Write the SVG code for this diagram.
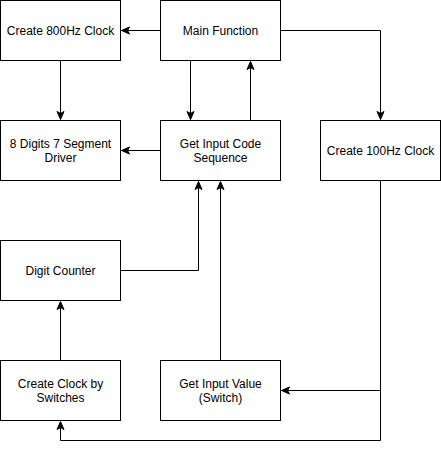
<svg xmlns="http://www.w3.org/2000/svg" width="441" height="449" viewBox="0 0 441 449">
<style>
.box{fill:#fff;stroke:#000;stroke-width:1}
.lbl{font-family:"Liberation Sans",Arial,sans-serif;font-size:12px;fill:#000;text-anchor:middle}
.edge{fill:none;stroke:#000;stroke-width:1}
</style>
<defs>
<marker id="arr" viewBox="0 0 10 10" refX="9" refY="5" markerWidth="10" markerHeight="10" markerUnits="userSpaceOnUse" orient="auto">
<path d="M1,1.5 L9,5 L1,8.5 L3,5 Z" fill="#000" stroke="#000" stroke-width="1"/>
</marker>
</defs>
<rect width="441" height="449" fill="#fff"/>
<g id="connectors">
<path class="edge" d="M160.5,30.5 H121.5" marker-end="url(#arr)"/>
<path class="edge" d="M60.5,60.5 V119.5" marker-end="url(#arr)"/>
<path class="edge" d="M190.5,60.5 V119.5" marker-end="url(#arr)"/>
<path class="edge" d="M250.5,120.5 V61.5" marker-end="url(#arr)"/>
<path class="edge" d="M280.5,30.5 H380.5 V119.5" marker-end="url(#arr)"/>
<path class="edge" d="M160.5,150.5 H121.5" marker-end="url(#arr)"/>
<path class="edge" d="M120.5,270.5 H198.5 V181.5" marker-end="url(#arr)"/>
<path class="edge" d="M220.5,360.5 V181.5" marker-end="url(#arr)"/>
<path class="edge" d="M60.5,360.5 V301.5" marker-end="url(#arr)"/>
<path class="edge" d="M380.5,180.5 V390.5 H281.5" marker-end="url(#arr)"/>
<path class="edge" d="M380.5,390.5 V440.5 H60.5 V421.5" marker-end="url(#arr)"/>
</g>
<g id="clk800"><rect class="box" x="0.5" y="0.5" width="120" height="60"/><text class="lbl" x="60.5" y="34.5">Create 800Hz Clock</text></g>
<g id="main"><rect class="box" x="160.5" y="0.5" width="120" height="60"/><text class="lbl" x="220.5" y="34.5">Main Function</text></g>
<g id="driver"><rect class="box" x="0.5" y="120.5" width="120" height="60"/><text class="lbl" x="60.5" y="147.5">8 Digits 7 Segment</text><text class="lbl" x="60.5" y="161.5">Driver</text></g>
<g id="getcode"><rect class="box" x="160.5" y="120.5" width="120" height="60"/><text class="lbl" x="220.5" y="147.5">Get Input Code</text><text class="lbl" x="220.5" y="161.5">Sequence</text></g>
<g id="clk100"><rect class="box" x="320.5" y="120.5" width="120" height="60"/><text class="lbl" x="380.5" y="154.5">Create 100Hz Clock</text></g>
<g id="counter"><rect class="box" x="0.5" y="240.5" width="120" height="60"/><text class="lbl" x="60.5" y="274.5">Digit Counter</text></g>
<g id="clksw"><rect class="box" x="0.5" y="360.5" width="120" height="60"/><text class="lbl" x="60.5" y="387.5">Create Clock by</text><text class="lbl" x="60.5" y="401.5">Switches</text></g>
<g id="getval"><rect class="box" x="160.5" y="360.5" width="120" height="60"/><text class="lbl" x="220.5" y="387.5">Get Input Value</text><text class="lbl" x="220.5" y="401.5">(Switch)</text></g>
</svg>
